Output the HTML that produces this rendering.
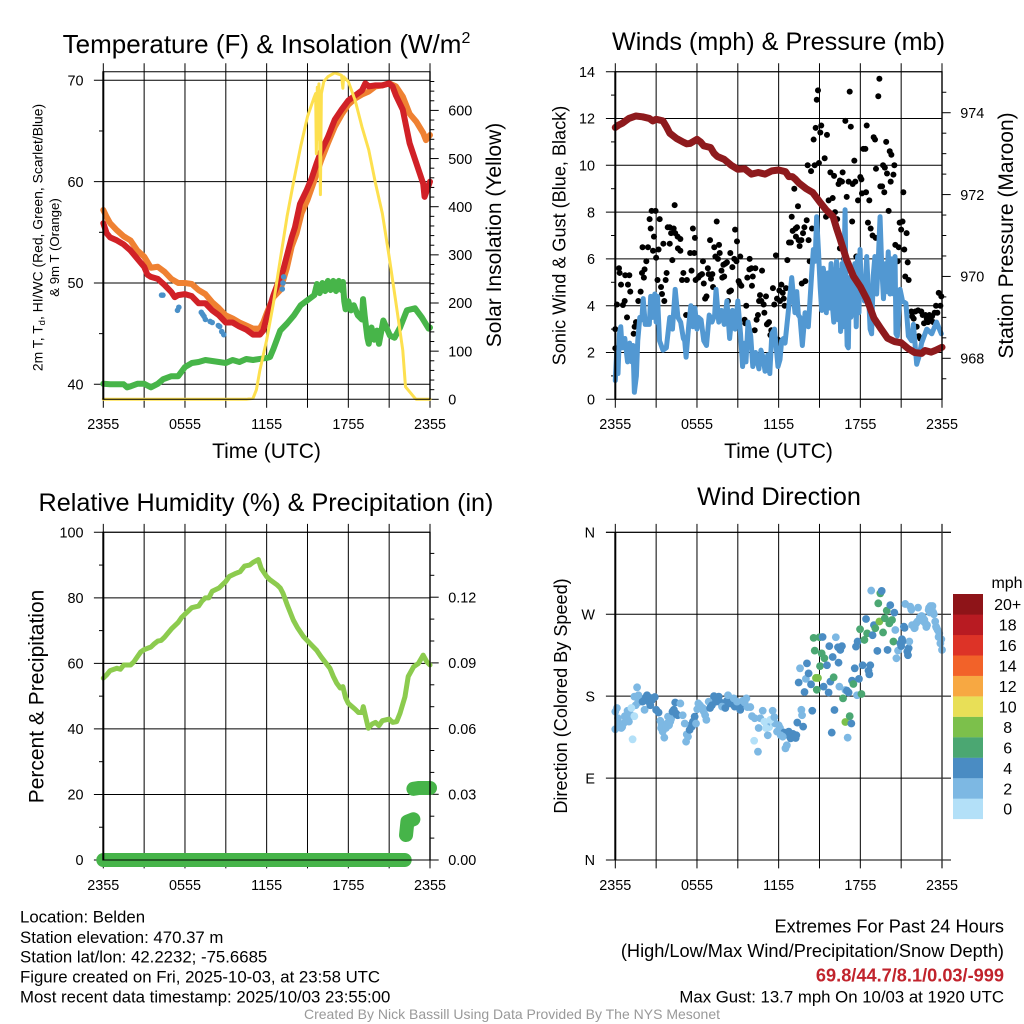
<!DOCTYPE html>
<html lang="en">
<head>
<meta charset="utf-8">
<title>Station meteogram: Belden</title>
<style>
html,body{margin:0;padding:0;background:#fff;}
svg{display:block;font-family:"Liberation Sans",Arial,sans-serif;}
</style>
</head>
<body>
<svg id="fig" xmlns="http://www.w3.org/2000/svg" width="1024" height="1024" viewBox="0 0 1024 1024">
<rect x="0" y="0" width="1024" height="1024" fill="#fff"/>

<g id="p1"></g>
<g id="p2"></g>
<g id="p3"></g>
<g id="p4"></g>
<g id="legend"></g>

<text x="266.5" y="53" font-size="26" text-anchor="middle">Temperature (F) &amp; Insolation (W/m<tspan font-size="16" dy="-10">2</tspan></text>
<text x="778.5" y="50" font-size="25.2" text-anchor="middle">Winds (mph) &amp; Pressure (mb)</text>
<text x="266" y="511" font-size="25.2" text-anchor="middle">Relative Humidity (%) &amp; Precipitation (in)</text>
<text x="779" y="505" font-size="25.2" text-anchor="middle">Wind Direction</text>

<text x="266.5" y="458" font-size="21" text-anchor="middle">Time (UTC)</text>
<text x="778.5" y="458" font-size="21" text-anchor="middle">Time (UTC)</text>

<text transform="translate(42.7 237.5) rotate(-90)" font-size="13.9" text-anchor="middle">2m T, T<tspan font-size="9.5" dy="2.5">d</tspan><tspan dy="-2.5">, HI/WC (Red, Green, Scarlet/Blue)</tspan></text>
<text transform="translate(59 247.5) rotate(-90)" font-size="13.2" text-anchor="middle">&amp; 9m T (Orange)</text>
<text transform="translate(501 235) rotate(-90)" font-size="21" text-anchor="middle">Solar Insolation (Yellow)</text>
<text transform="translate(565.5 235.5) rotate(-90)" font-size="18.1" text-anchor="middle">Sonic Wind &amp; Gust (Blue, Black)</text>
<text transform="translate(1013 235.5) rotate(-90)" font-size="21" text-anchor="middle">Station Pressure (Maroon)</text>
<text transform="translate(43.3 696.5) rotate(-90)" font-size="21" text-anchor="middle">Percent &amp; Precipitation</text>
<text transform="translate(567 696) rotate(-90)" font-size="18.1" text-anchor="middle">Direction (Colored By Speed)</text>

<text x="20" y="922.7" font-size="16.8">Location: Belden</text>
<text x="20" y="943" font-size="16.8">Station elevation: 470.37 m</text>
<text x="20" y="962.5" font-size="16.8">Station lat/lon: 42.2232; -75.6685</text>
<text x="20" y="982.7" font-size="16.8">Figure created on Fri, 2025-10-03, at 23:58 UTC</text>
<text x="20" y="1002.7" font-size="16.8">Most recent data timestamp: 2025/10/03 23:55:00</text>

<text x="1004" y="932.7" font-size="18.2" text-anchor="end">Extremes For Past 24 Hours</text>
<text x="1004" y="957" font-size="18.2" text-anchor="end">(High/Low/Max Wind/Precipitation/Snow Depth)</text>
<text x="1004" y="981.7" font-size="18.2" font-weight="bold" fill="#c1232c" text-anchor="end">69.8/44.7/8.1/0.03/-999</text>
<text x="1004" y="1002.7" font-size="16.8" text-anchor="end">Max Gust: 13.7 mph On 10/03 at 1920 UTC</text>
<text x="512" y="1019" font-size="14" fill="#999" text-anchor="middle">Created By Nick Bassill Using Data Provided By The NYS Mesonet</text>
</svg>

<script>
// ---- shared axis categories ----
const gridHours = [0,3,6,9,12,15,18,21,24];
const xTickHours = [0,6,12,18,24];
const xTickLabels = ['2355','0555','1155','1755','2355'];

// ---- panel 1: temperature and insolation ----
const tempTicks = [40,50,60,70];
const tempMinorTicks = [45,55,65];
const solarTicks = [0,100,200,300,400,500,600];
const solarMinorTicks = [20,40,60,80,120,140,160,180,220,240,260,280,320,340,360,380,420,440,460,480,520,540,560,580,620,640,660];

const orangeHours = [0,.25,.5,1,1.5,2,2.5,3,3.5,4,
 4.5,5,5.5,6,6.5,7,7.5,8,8.5,9,
 9.5,10,10.5,11,11.5,11.75,12,12.5,13,13.47,
 13.84,14.2,14.57,15,15.5,16,16.5,17,17.5,18,
 18.5,19,19.5,20,20.5,21,21.5,22,22.5,23,
 23.5,23.7,24];
const orangeTemp = [57.2,56.5,55.9,55.2,54.6,54.2,53.2,52.6,51.5,51.6,
 51.1,50.4,50,50,49.9,49.3,48.9,48.1,47.5,46.8,
 46.5,46.1,45.8,45.5,45.5,46.1,47,48.6,49.3,51.4,
 53.6,54.9,56.9,58.2,60.1,62.1,63.8,65.4,66.6,67.6,
 68.2,68.6,68.9,69.4,69.5,69.7,69.4,68.4,66.7,65.9,
 64.8,64.1,64.6];

const redHours = [0,.25,.5,1,1.5,2,2.5,3,3.25,3.5,
 4,4.5,5,5.25,5.5,6,6.5,7,7.5,8,
 8.5,9,9.5,10,10.5,11,11.5,11.75,12,12.5,
 13,13.2,13.84,14.08,14.45,14.95,15.3,15.67,16,16.5,
 17,17.5,18,18.5,19,19.25,19.5,20,20.5,21,
 21.25,21.5,22,22.5,23,23.5,23.6,24];
const redTemp = [55.9,54.9,54.5,54.2,53.8,53.2,52.4,51.6,50.8,50.6,
 50.4,49.8,49.1,48.6,48.8,48.9,48.7,48,48,47.3,
 46.8,46.1,46.1,45.7,45.4,44.9,44.9,45.3,46.6,48.8,
 50.6,51.2,54.5,55.5,57.8,59.2,60.3,61.8,63,64.4,
 66.1,67.1,68,68.5,69,69.7,69.4,69.5,69.5,69.7,
 69.4,68.5,67.1,63.8,61.8,59.8,58.5,60];

const dewHours = [0,.5,1,1.5,1.75,2,2.5,3,3.5,4,
 4.4,5,5.5,6,6.5,7,7.5,8,8.5,9,
 9.5,10,10.5,11,11.5,12,12.25,12.5,13,13.5,
 14,14.5,15,15.5,15.7,15.9,16.1,16.3,16.5,16.7,
 16.9,17.1,17.3,17.5,17.6,17.7,17.8,18,18.2,18.4,
 18.7,19,19.08,19.2,19.4,19.5,19.7,19.9,20.1,20.25,
 20.57,20.8,21.06,21.4,21.8,22.3,22.9,23.4,23.9,24];
const dewTemp = [40.05,40,40,40,39.7,39.8,40.05,40.05,39.7,40.05,
 40.5,40.8,40.8,41.7,42.1,42.2,42.4,42.3,42.2,42.1,
 42.4,42.2,42.5,42.4,42.5,42.6,42.7,43.5,45.3,46,
 46.8,47.8,48.3,48.8,49.9,49,50,49.2,50.2,49.3,
 50.2,49.2,50.2,49.3,50.1,48.2,47.4,48.2,47.3,47.8,
 46.8,46.4,48.4,46.8,44.6,44,45.6,44.4,45.3,44,
 46.3,45.6,44.8,44.6,45.6,47.3,47.5,46.6,45.5,45.6];

const heatHours = [4.28,4.38,5.45,5.55,7.2,7.3,7.4,7.5,7.85,8,8.45,8.55,8.7,8.85,13.15,13.2,13.25];
const heatTemp = [48.8,48.8,47.3,47.6,47.1,46.9,46.7,46.4,46.2,46.1,45.8,45.7,45.2,44.9,49.4,50,50.6];

const solarHours = [0,10.5,11,11.25,11.5,12,12.5,13,13.5,14,
 14.5,15,15.5,15.6,15.65,15.72,15.78,15.84,15.95,16.02,
 16.2,16.5,17,17.5,17.6,17.65,18,18.5,19,19.5,
 20,20.5,21,21.5,22,22.2,22.9,23,24];
const solarWatts = [0,0,2,20,60,123,200,290,380,455,
 525,587,628,635,510,648,540,655,425,635,
 660,670,678,673,646,670,660,621,566,518,
 448,386,296,200,102,26,2,0,0];

// ---- panel 2: winds and pressure ----
const windTicks = [0,2,4,6,8,10,12,14];
const windMinorTicks = [1,3,5,7,9,11,13];
const pressureTicks = [968,970,972,974];
const pressureMinorTicks = [967.5,968.5,969,969.5,970.5,971,971.5,972.5,973,973.5,974.5];

const gustHours = [0,0,.12,.27,.32,.42,.56,.69,.73,1.03,
 .93,.86,1.1,1.27,1.35,1.42,1.52,1.69,1.86,1.96,
 2.1,2,2.15,2.28,2.4,2.52,2.6,2.67,2.77,2.84,
 2.96,3,3.1,3.18,3.26,3.36,3.43,3.6,3.53,3.7,
 3.77,3.85,4,4.19,4,4.1,4.29,4.36,4.4,4.58,
 4.6,4.78,4.78,4.9,5,5.26,5.2,5.5,5.6,5.7,
 5.8,5.85,5.9,6.1,6.25,6.37,6.44,6.5,6.7,6.6,
 6.8,6.86,7.03,7.13,6.96,7.18,7.27,7.35,7.45,7.54,
 7.62,7.67,7.8,7.86,8,7.94,8.08,8.2,8.28,8.38,
 8.5,8.45,8.6,8.74,8.8,8.94,8.9,9.06,9.13,9.18,
 9.26,9.5,9.55,9.62,9.7,9.85,9.87,10,10.04,10.1,
 10.29,10.24,10.38,10.48,10.63,10.56,10.78,10.73,10.9,10.95,
 11.07,11.14,11.29,11.22,11.39,11.46,11.58,11.68,11.8,11.88,
 11.95,12.05,12.1,12.2,12.3,12.37,12.44,12.54,12.64,12.76,
 12.9,12.96,13.03,13.15,13.25,13.35,13.27,13.42,13.47,13.54,
 13.67,13.7,13.79,13.89,13.96,14.06,14.13,14.2,14.28,14.38,
 14.45,14.57,14.65,14.72,14.8,14.89,14.96,15.06,15.13,15.38,
 15.55,15.48,15.67,15.8,15.97,16.07,16.14,16.3,16.4,16.5,
 16.65,16.7,16.5,17,16.8,16.9,17.14,17.22,17.3,17.4,
 17.44,17.63,17.56,17.7,17.83,18,18.08,18.12,18.22,18.37,
 18.42,18.47,18.56,18.66,18.76,18.9,18.98,19.08,19.15,19.13,
 19.32,19.4,19.47,19.6,19.67,19.76,19.8,19.9,19.96,20.08,
 20.16,20.28,20.23,20.43,20.5,20.57,20.74,20.82,20.89,21,
 21.1,21.16,21.23,21.3,21.4,21.48,21.55,21.75,21.8,21.92,
 22.04,22.14,22.24,22.29,22.4,22.48,22.58,22.68,22.78,22.88,
 22.97,23.07,23.17,23.27,23.36,23.46,23.56,23.66,23.76,23.88,
 23.95];
const gustMph = [2.18,3,4.05,5.6,5.4,4.9,4.03,4.2,5.3,5.3,
 4.9,3.5,4.6,2.2,2.8,3.1,3.3,4.2,4.6,5.4,
 5.2,6.5,5.55,5.9,6.5,7.7,7.3,8.05,6.35,6.95,
 8.05,6.05,5.1,6.4,7.7,4.8,4.5,4.2,6.65,5.1,
 5.4,7.35,6.65,5.95,7.35,7.1,7.3,8.3,7.1,6.95,
 6.45,6.85,6.35,5.1,5.4,5.1,3.6,6.25,5.5,7.3,
 6.25,6.9,5.1,5.2,5.3,5.35,5.9,4.95,4.4,4.3,
 5.6,5.35,5.15,5.35,6.8,4.8,6.5,6.1,7.6,6,
 6.6,6.25,5.5,5.2,5.25,5.75,5.8,5.85,4.2,4.6,
 4.65,6.25,5.65,6,7.25,6.75,5.9,5.05,4.95,6.1,
 4.85,3.4,3.25,4,5.2,5.55,6,5.6,4.85,5.25,
 5.6,2.95,3.4,3.6,4.45,4.2,5.5,4.2,4.05,3.7,
 4.4,3.2,3.3,3.25,2.75,2.95,4.75,4.05,6.15,4.3,
 2.55,4.65,4.2,4.9,4.55,4.3,4,4.75,5.95,6.7,
 6.7,7.8,7.2,9,7.3,7.35,6.95,8.25,6.8,6.55,
 6.8,4.95,7.1,7.35,5.05,7.65,10,6.8,5.9,9.75,
 7.3,11.1,10,11.6,12.8,13.2,10.1,11.4,11.7,10.3,
 11.3,7.8,8.5,9.7,8.6,9.55,8,7.7,9.2,9.35,
 9.3,9.7,6.45,8.65,6,11.9,9.3,13.15,11.65,7.6,
 9.2,9.3,10.2,6.1,8.5,9.5,9.4,8.8,10.7,10.7,
 8.85,11.7,7.55,8.5,7.3,7,11.2,11.1,9.85,6.9,
 12.95,13.7,9.1,9.1,10,8.85,9.9,11,9.65,8.05,
 10.6,10.45,9.3,9.6,10,6.6,5.9,6.5,7.55,7.25,
 7.6,8.85,6.4,5.25,7.1,5.85,5.1,3.75,3.55,3.45,
 3.75,3.1,3.8,2.7,2.6,3.75,3.6,3.25,3.6,3.45,
 3.3,3.6,3.4,3.55,3.3,3.7,4,3.7,4.55,4,
 4.4];

const windHours = [0,.1,.2,.3,.4,.5,.7,.9,1.05,1.2,
 1.3,1.4,1.55,1.65,1.8,1.95,2.05,2.2,2.5,2.6,
 2.75,2.9,3,3.1,3.25,3.5,3.75,4,4.2,4.4,
 4.6,4.8,5,5.1,5.2,5.4,5.55,5.7,5.85,6,
 6.1,6.3,6.5,6.7,6.9,7.1,7.3,7.4,7.6,7.8,
 8,8.2,8.4,8.6,8.8,9,9.2,9.35,9.5,9.6,
 9.75,9.95,10.1,10.3,10.55,10.7,10.85,11,11.2,11.35,
 11.5,11.7,11.95,12.1,12.22,12.35,12.47,12.7,12.96,13.2,
 13.33,13.45,13.57,13.74,13.94,14.18,14.3,14.43,14.55,14.68,
 14.79,14.92,15.05,15.16,15.28,15.4,15.5,15.62,15.72,15.85,
 15.95,16.05,16.15,16.25,16.35,16.45,16.55,16.65,16.75,16.82,
 16.88,16.95,17.03,17.12,17.2,17.3,17.4,17.5,17.6,17.7,
 17.8,17.9,17.98,18.08,18.2,18.3,18.47,18.6,18.72,18.83,
 18.95,19.07,19.2,19.3,19.45,19.57,19.7,19.85,19.95,20.05,
 20.18,20.3,20.45,20.55,20.62,20.72,20.92,21.1,21.35,21.53,
 21.77,21.9,22.14,22.3,22.5,22.88,23.25,23.6,23.95];
const windMph = [.8,2,1.1,2.8,3.1,2.2,2.6,1.6,2.4,1.6,
 2.3,.3,1,2.5,3.5,3.4,4.3,3.2,3.2,4.4,
 3.5,4.5,3.3,4.4,2.5,2.1,2.2,3.5,3,4.7,
 3.5,3.3,2.6,2.5,1.8,3.2,4,3.1,3.9,3,
 3.5,3.4,2.5,2.3,3.6,3.3,3.6,4.7,3.3,3.8,
 3.2,4.2,2.6,3.8,3,4.2,2.8,1.4,2.4,1.6,
 3.3,2.7,1.4,2,1.3,2.1,1.8,1.2,1.9,1.1,
 2.8,3,1.4,1.7,2.5,2.6,2.4,3.7,5.2,3.7,
 4.6,3.6,3.5,2.3,3.7,3.1,4.2,5.4,6.4,5.9,
 7.8,6.4,4.8,3.8,5.6,5.1,3.7,5.4,3.9,5.8,
 4,3.3,4.6,5.9,3.4,5.5,2.9,5.8,3.1,6.2,
 8.1,4.6,2.3,2.2,5.2,3.5,5.4,3.6,5.8,3.1,
 6.1,3.7,6.4,4.4,5,4.2,6.1,4.5,3,2.8,
 5.3,6.1,4.5,5.7,7.8,5.7,4.3,5.8,4.6,6.3,
 4.5,6,4.5,6.1,2.8,2.7,4.7,4.2,4.1,2.7,
 2.5,3.2,1.5,1.8,2.4,3,2.8,3.3,2.8];

const pressureHours = [0,.25,.5,1,1.5,2,2.5,2.75,3,3.5,
 3.75,4,4.5,5,5.25,5.5,6,6.25,6.5,7,
 7.25,7.5,8,8.5,9,9.5,10,10.5,11,11.5,
 12,12.5,12.75,13,13.25,13.5,14,14.5,15,15.5,
 16,16.25,16.5,17,17.5,18,18.5,19,19.5,20,
 20.5,21,21.5,22,22.5,22.75,23.2,23.5,24];
const pressureMb = [973.64,973.70,973.74,973.86,973.92,973.90,973.86,973.80,973.84,973.80,
 973.66,973.50,973.37,973.28,973.24,973.25,973.35,973.29,973.19,973.15,
 973.01,972.93,972.86,972.72,972.62,972.63,972.50,972.54,972.50,972.58,
 972.60,972.56,972.44,972.44,972.37,972.28,972.15,972.05,971.83,971.62,
 971.46,971.18,970.93,970.40,970.0,969.75,969.43,968.98,968.73,968.49,
 968.41,968.38,968.24,968.14,968.12,968.19,968.15,968.19,968.27];

// ---- panel 3: humidity and precipitation ----
const humidityTicks = [0,20,40,60,80,100];
const humidityMinorTicks = [10,30,50,70,90];
const precipTicks = [0,0.03,0.06,0.09,0.12];
const precipLabels = ['0.00','0.03','0.06','0.09','0.12'];
const precipMinorTicks = [0.01,0.02,0.04,0.05,0.07,0.08,0.10,0.11,0.13,0.14];

const humidityHours = [0,.25,.5,1,1.25,1.5,2,2.25,2.5,2.75,
 3,3.5,3.75,4,4.25,4.5,5,5.25,5.5,5.75,
 6,6.5,7,7.25,7.5,7.75,8,8.5,9,9.25,
 9.75,10.05,10.38,10.75,11,11.39,11.6,12,12.25,12.75,
 13,13.2,13.5,13.96,14.25,14.7,15.2,15.67,16,16.65,
 16.9,17.14,17.4,17.6,17.8,18,18.5,18.75,19,19.1,
 19.47,19.75,20,20.25,20.5,21,21.25,21.55,21.8,22.16,
 22.4,22.8,23.15,23.5,23.76,24];
const humidityPct = [55.5,56.5,57.8,58.5,58.2,59.5,59.5,60.5,62,63.5,
 64.2,65,66,66.8,67,68,70.5,71.5,72.5,74,
 75,77,77.5,79,80,80,82,83,85,86.5,
 87.5,88,89.7,90,90.8,91.7,89,86.5,85.5,84,
 83,81.4,78,73.2,71,68.2,66,64,62,58.5,
 56,54,52.5,52.9,49.5,47.8,46,45,45,46.8,
 40.2,41.5,42,41,42.5,43,42,42.2,44.8,49.8,
 56,59,60,62.5,60.5,59.5];

const precipHours = [0,22.14,22.24,22.34,22.78,22.78,23.2,24];
const precipInches = [0,0,.0114,.0175,.0186,.0325,.0329,.0329];

// ---- panel 4: wind direction ----
const directionTicks = [0,90,180,270,360];
const directionLabels = ['N','E','S','W','N'];
const speedBinEdges = [1,3,5,7,9,11,13,15,17,19];
const legendLabels = ['0','2','4','6','8','10','12','14','16','18','20+'];
const legendColors = ['#b3e0f8','#7db8e3','#4a8cc3','#4ba772','#7cc04b','#e8df57','#f7a842','#f26229','#dd3327','#b81b22','#8e1418'];

const dirHours = [0,.12,0,.2,.3,.44,.6,.78,.9,1.03,
 .25,.5,.7,.85,1,1.1,1.5,2.2,2.6,3.4,
 3.8,3.95,4.1,4.3,4.5,5.25,5.55,5.7,6.1,6.5,
 7,7.2,7.5,7.95,8.2,8.6,9.05,9.3,9.5,11.3,
 11.75,12.1,12.4,12.65,12.8,13,13.1,13.25,13.3,11.1,
 1.18,1.4,1.27,1.4,1.6,1.7,1.67,2,2.15,2.33,
 2.45,2.57,2.7,2.9,3,3.18,3.3,3.36,3.48,3.6,
 3.72,3.87,4.04,4.2,4.4,4.46,4.58,4.78,4.95,5.1,
 5.2,5.34,5.46,5.63,5.83,5.93,6.02,6.22,6.42,6.6,
 6.69,6.86,6.96,7.1,7.25,7.4,7.6,7.74,7.84,8.08,
 8.28,8.45,8.7,8.77,8.94,9.18,9.36,9.63,9.7,9.92,
 10.04,10.24,10.2,10.48,10.53,10.65,10.83,10.95,11.07,11.2,
 11.39,11.56,11.68,11.88,12,12.15,12.3,12.5,12.6,12.74,
 12.88,13.05,13.2,13.37,13.67,13.72,13.8,14.47,13.47,13.57,
 13.9,14,14.08,14.2,14.38,14.57,15,14.65,14.74,14.89,
 14.8,15.23,15.04,15.16,15.36,15.3,15.67,15.8,16.04,15.55,
 15.72,15.97,16.2,16.36,16.4,16.53,16.65,16.1,15.9,16.46,
 16.73,16.9,17.02,17.14,16.9,17.22,17.34,17.07,17.39,17.49,
 17.59,17.68,17.8,17.76,17.9,18.08,17.98,18.17,18.3,18.42,
 18.5,18.6,18.66,18.73,18.9,19,19.1,18.8,19.25,19.32,
 19.47,19.57,19.4,19.67,19.8,19.94,20,20.2,20.13,20.33,
 20.43,20.5,20.57,20.65,20.77,20.94,21.06,21.2,21.3,21.45,
 21.55,21.6,21.67,21.8,21.97,22.1,22.24,22.38,22.58,22.78,
 22.9,23.02,23.2,23.3,23.4,23.56,23.68,23.8,23.88,23.95,
 21,21.1,21.25,21.5,21.75,22,22.2,22.45,22.65,23.1,
 22.5,22.7,22.85,23.05,23.15,23.25,23.35,23.5,23.6,23.75,
 24];
const dirDegrees = [163,167,143.6,155.7,148,145,150,153,164,157,
 150,146,158,157,152,160,170,178,178,148,
 150,148,155,165,160,138,148,152,172,163,
 172,176,176,170,175,172,170,170,173,146,
 150,145,140,138,136,137,136,134,137,150,
 167,158,132.6,179.5,189.7,181,173,174,165,181,
 174,170,176,179,165,162,153,145,141,134.4,
 145,157.5,152,163,173,161,159,172,159,150,
 130,135.5,143,146.5,157.5,150,165.6,170,167,159,
 154,174,167,170,180,174,179.5,173,168.5,167,
 181,172,177.6,168.5,174,165,175,177.6,168,168,
 158,155.7,131,119,145,155.7,164,152,145,137,
 154,164,157,141,148,137,135.5,122.7,126,141,
 133.7,138.5,135.5,151,165,159,146.5,164,195,210.6,
 184.6,199,216,205,193,244,244.7,230,200,200,
 187,245,213,227,221.6,190.5,184,196,200.7,214,
 235,223,244.7,233.7,216.8,230.8,235,164.8,140,190.5,
 177.6,186.8,186,184,151.6,158,150,134.4,197,193.4,
 210.6,234.4,240,181,199,182.4,253.5,214,241.8,264.8,
 249,208,204,214,247,258,254.6,296,229.7,282,
 293,295.6,262,250,265.6,274,230.8,280,260,263.7,
 240,271.8,252.7,221.6,230,238,242.5,256.4,281.3,229,
 232.6,240,278.4,258,254.6,260,277.3,266.7,267.4,260,
 258,274.7,277.7,279,270,256.4,252.7,249,238,242.5,
 235,240,255,225,275,255,262,265,262,272,
 268,264,256,277,279,276,272,262,255,245,
 230.8];
const dirSpeeds = [2,2,2,2,2,2,2,2,2,2,
 2,2,2,2,2,2,2,4,4,2,
 2,2,2,4,4,2,4,4,2,2,
 4,4,4,4,4,4,4,4,2,.5,
 2,2,4,4,4,4,4,4,4,2,
 .5,.5,.5,2,2,2,2,4,2,4,
 4,4,4,4,4,4,2,2,2,2,
 2,2,2,4,4,4,4,2,2,2,
 2,2,4,4,4,2,2,2,2,2,
 2,2,4,4,4,4,4,4,2,4,
 2,4,2,4,2,4,2,2,2,2,
 2,2,.5,2,2,2,2,.5,.5,2,
 .5,2,2,2,2,2,2,2,2,4,
 4,4,4,4,2,2,4,4,4,2,
 4,2,4,4,4,6,6,6,8,8,
 6,4,6,6,6,4,4,4,6,4,
 4,4,2,4,4,4,4,4,4,2,
 6,2,4,4,8,6,4,2,4,6,
 4,4,4,2,4,6,6,4,6,4,
 6,4,4,4,4,4,6,2,4,6,
 6,4,8,6,6,6,4,4,6,6,
 6,4,2,2,2,4,4,4,2,4,
 4,2,2,2,2,2,2,2,2,2,
 2,2,2,2,2,2,2,2,2,2,
 4,4,4,4,2,2,2,2,2,2,
 2,2,2,2,2,2,2,2,2,2,
 2];

// ---- axis functions ----
const NS = 'http://www.w3.org/2000/svg';
const leftEdges = {a:103.3, b:615.3};
const xWidth = 326.7;
const xLeft = h => leftEdges.a + h / 24 * xWidth;
const xRight = h => leftEdges.b + h / 24 * xWidth;
const yTemp = v => 384.3 - (v - 40) * 10.133;
const ySolar = v => 399.3 - v * 0.4815;
const yWind = v => 399.3 - v * 23.4;
const yPressure = v => 358.3 - (v - 968) * 40.93;
const yHumidity = v => 860 - v * 3.277;
const yPrecip = v => 860 - v * 2190;
const yDirection = v => 860 - v * 0.9102;

function mk(parent, tag, attrs) {
  const el = document.createElementNS(NS, tag);
  for (const k in attrs) el.setAttribute(k, attrs[k]);
  parent.appendChild(el);
  return el;
}
function seriesPath(xs, ys, xFn, yFn) {
  let d = '';
  const n = Math.min(xs.length, ys.length);
  for (let i = 0; i < n; i++) d += (i ? 'L' : 'M') + xFn(xs[i]).toFixed(2) + ' ' + yFn(ys[i]).toFixed(2);
  return d;
}
function drawLine(g, xs, ys, xFn, yFn, color, width) {
  return mk(g, 'path', {d: seriesPath(xs, ys, xFn, yFn), fill: 'none', stroke: color, 'stroke-width': width, 'stroke-linejoin': 'round', 'stroke-linecap': 'round'});
}
function drawGrid(g, xFn, vals, yFn, x0, top, bottom, x1) {
  gridHours.forEach(h => {
    const el = mk(g, 'line', {x1: xFn(h), x2: xFn(h), y1: top - 8.4, y2: bottom + 8.4, stroke: '#000', 'stroke-width': 1});
    
    
  });
  vals.forEach(v => {
    const el = mk(g, 'line', {x1: x0 - 9.4, x2: x1, y1: yFn(v), y2: yFn(v), stroke: '#000', 'stroke-width': 1});
    
    
  });
}
function drawFrame(g, x0, x1, top, bottom) {
  const el = mk(g, 'path', {d: `M${x0} ${top}H${x1}M${x0} ${bottom}H${x1}`, fill: 'none', stroke: '#000', 'stroke-width': 1});
  
  
  const l = mk(g, 'line', {x1: x0, x2: x0, y1: top - 0.5, y2: bottom + 0.5, stroke: '#000', 'stroke-width': 2});
  
  
  const r = mk(g, 'line', {x1: x1, x2: x1, y1: top - 0.5, y2: bottom + 0.5, stroke: '#000', 'stroke-width': 1.4});
  
  
}
function drawXLabels(g, xFn, baseline) {
  xTickHours.forEach((h, i) => {
    const el = mk(g, 'text', {x: xFn(h), y: baseline, 'font-size': 14.4, 'text-anchor': 'middle'});
    el.textContent = xTickLabels[i];
    
    
  });
}
function drawYLabels(g, vals, labels, yFn, x, anchor) {
  vals.forEach((v, i) => {
    const el = mk(g, 'text', {x: x, y: yFn(v) + 5.2, 'font-size': 14.4, 'text-anchor': anchor});
    el.textContent = labels[i];
    
    
  });
}
function drawTicks(g, vals, yFn, x0, x1) {
  vals.forEach(v => {
    const el = mk(g, 'line', {x1: x0, x2: x1, y1: yFn(v), y2: yFn(v), stroke: '#000', 'stroke-width': 1});
    
    
  });
}

// ---- panel 1 ----
const p1 = document.getElementById('p1');
drawGrid(p1, xLeft, tempTicks, yTemp, 103.3, 71.7, 399.3, 430);
drawTicks(p1, tempMinorTicks, yTemp, 99, 103.3);
drawTicks(p1, solarTicks, ySolar, 430, 438.7);
drawTicks(p1, solarMinorTicks, ySolar, 430, 434.3);
const orangeLine = drawLine(p1, orangeHours, orangeTemp, xLeft, yTemp, '#ef8132', 6);


const redLine = drawLine(p1, redHours, redTemp, xLeft, yTemp, '#d12127', 6);


const dewLine = drawLine(p1, dewHours, dewTemp, xLeft, yTemp, '#47b549', 6);


heatHours.forEach((h, i) => {
  const el = mk(p1, 'circle', {cx: xLeft(h), cy: yTemp(heatTemp[i]), r: 2.8, fill: '#4a90c8'});
  
  
});
const solarLine = drawLine(p1, solarHours, solarWatts, xLeft, ySolar, '#fde04f', 3);


drawFrame(p1, 103.3, 430, 71.7, 399.3);
drawXLabels(p1, xLeft, 429);
drawYLabels(p1, tempTicks, tempTicks, yTemp, 83.5, 'end');
drawYLabels(p1, solarTicks, solarTicks, ySolar, 448.3, 'start');

// ---- panel 2 ----
const p2 = document.getElementById('p2');
drawGrid(p2, xRight, windTicks, yWind, 615.3, 71.7, 399.3, 942);
drawTicks(p2, windMinorTicks, yWind, 611, 615.3);
drawTicks(p2, pressureTicks, yPressure, 942, 950.7);
drawTicks(p2, pressureMinorTicks, yPressure, 942, 946.3);
gustHours.forEach((h, i) => {
  const el = mk(p2, 'circle', {cx: xRight(h), cy: yWind(gustMph[i]), r: 3, fill: '#000'});
  
  
});
const windLine = drawLine(p2, windHours, windMph, xRight, yWind, '#5298d2', 5);


const pressureLine = drawLine(p2, pressureHours, pressureMb, xRight, yPressure, '#8e1a1d', 7);


drawFrame(p2, 615.3, 942, 71.7, 399.3);
drawXLabels(p2, xRight, 429);
drawYLabels(p2, windTicks, windTicks, yWind, 595, 'end');
drawYLabels(p2, pressureTicks, pressureTicks, yPressure, 960.3, 'start');

// ---- panel 3 ----
const p3 = document.getElementById('p3');
drawGrid(p3, xLeft, humidityTicks, yHumidity, 103.3, 532.3, 860, 430);
drawTicks(p3, humidityMinorTicks, yHumidity, 99, 103.3);
drawTicks(p3, precipTicks, yPrecip, 430, 438.7);
drawTicks(p3, precipMinorTicks, yPrecip, 430, 434.3);
const humidityLine = drawLine(p3, humidityHours, humidityPct, xLeft, yHumidity, '#8ccb4e', 5);


let precipStart = 0;
for (let i = 1; i <= precipHours.length; i++) {
  if (i === precipHours.length || Math.abs(precipInches[i] - precipInches[i - 1]) > 0.008) {
    const seg = drawLine(p3, precipHours.slice(precipStart, i), precipInches.slice(precipStart, i), xLeft, yPrecip, '#46b449', 14);
    
    
    precipStart = i;
  }
}
drawFrame(p3, 103.3, 430, 532.3, 860);
drawXLabels(p3, xLeft, 890);
drawYLabels(p3, humidityTicks, humidityTicks, yHumidity, 83.5, 'end');
drawYLabels(p3, precipTicks, precipLabels, yPrecip, 448.3, 'start');

// ---- panel 4 ----
const p4 = document.getElementById('p4');
drawGrid(p4, xRight, directionTicks, yDirection, 615.3, 532.3, 860, 951);
function speedColor(s) {
  let i = 0;
  while (i < speedBinEdges.length && s >= speedBinEdges[i]) i++;
  return legendColors[i];
}
dirHours.forEach((h, i) => {
  const el = mk(p4, 'circle', {cx: xRight(h), cy: yDirection(dirDegrees[i]), r: 3.9, fill: speedColor(dirSpeeds[i])});
  
  
});
const frame4 = mk(p4, 'path', {d: 'M606 532.3H951M606 860H951', fill: 'none', stroke: '#000', 'stroke-width': 1});


const left4 = mk(p4, 'line', {x1: 615.3, x2: 615.3, y1: 532, y2: 860.5, stroke: '#000', 'stroke-width': 2});


const right4 = mk(p4, 'line', {x1: 942, x2: 942, y1: 524, y2: 868, stroke: '#333', 'stroke-width': 1.4});


drawXLabels(p4, xRight, 890);
drawYLabels(p4, directionTicks, directionLabels, yDirection, 595, 'end');

// ---- legend ----
const lg = document.getElementById('legend');
const legendTitle = mk(lg, 'text', {x: 1007, y: 588, 'font-size': 16, 'text-anchor': 'middle'});
legendTitle.textContent = 'mph';


legendLabels.forEach((label, i) => {
  const top = 594 + (legendLabels.length - 1 - i) * 20.45;
  const box = mk(lg, 'rect', {x: 953, y: top, width: 30, height: 20.6, fill: legendColors[i]});
  
  
  const t = mk(lg, 'text', {x: 1007.7, y: top + 16.2, 'font-size': 16, 'text-anchor': 'middle'});
  t.textContent = label;
  
  
});
</script>
</body>
</html>
